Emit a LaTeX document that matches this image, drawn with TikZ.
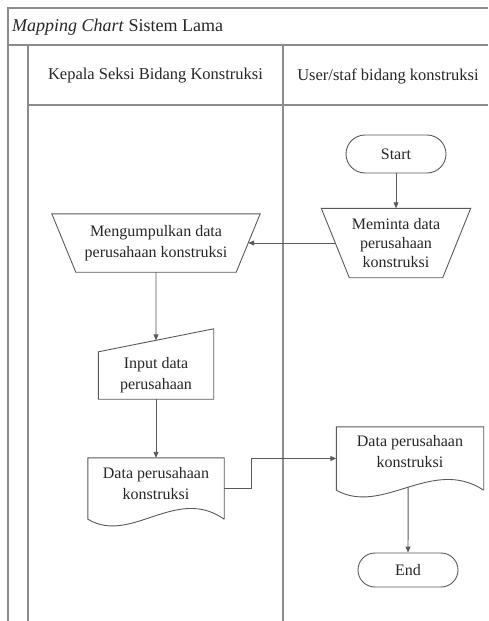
\documentclass[tikz,border=0pt]{standalone}
\usepackage{fontspec}
\setmainfont{Liberation Serif}
\usetikzlibrary{arrows.meta,calc}

\tikzset{
  lane/.style={draw=black!45, line width=1.2pt},
  outline/.style={draw=black!65, line width=0.9pt},
  flow/.style={draw=black!65, line width=0.9pt, -{Triangle[length=6pt,width=5pt]}},
  txt/.style={font=\fontsize{16}{21}\selectfont, text=black!85, align=center, inner sep=1pt},
  terminal/.style={txt, outline, minimum width=100pt},
}

\begin{document}
\begin{tikzpicture}[x=1pt, y=1pt]
\useasboundingbox (0,0) rectangle (488,-621);

% swimlane
\draw[lane] (8,-621) -- (8,-8) -- (488,-8);
\draw[lane] (8,-45) -- (488,-45);
\draw[lane] (28,-45) -- (28,-621);
\draw[lane] (283,-45) -- (283,-621);
\draw[lane] (28,-105) -- (488,-105);

\node[txt, anchor=west, font=\fontsize{18}{21}\selectfont] (title) at (11,-27) {\textit{Mapping Chart} Sistem Lama};
\node[txt, font=\fontsize{16.5}{21}\selectfont] (kasi) at (155.5,-76) {Kepala Seksi Bidang Konstruksi};
\node[txt, font=\fontsize{16.5}{21}\selectfont] (staf) at (388,-76) {User/staf bidang konstruksi};

\node[terminal, rounded corners=19pt, minimum height=38pt] (start) at (396,-154) {Start};

% manual operation
\node[txt, font=\fontsize{16}{19}\selectfont, minimum width=121pt, minimum height=69pt] (minta) at (396,-243) {Meminta data\\perusahaan\\konstruksi};
\draw[outline] ($(minta.north west)+(-14,0)$) -- ($(minta.north east)+(14,0)$) -- ($(minta.south east)+(-14,0)$) -- ($(minta.south west)+(14,0)$) -- cycle;
\node[txt, minimum width=184pt, minimum height=58pt] (kumpul) at (156,-243) {Mengumpulkan data\\perusahaan konstruksi};
\draw[outline] ($(kumpul.north west)+(-12,0)$) -- ($(kumpul.north east)+(12,0)$) -- ($(kumpul.south east)+(-12,0)$) -- ($(kumpul.south west)+(12,0)$) -- cycle;

% manual input
\node[txt, minimum width=115pt, minimum height=47pt] (input) at (156,-375.5) {Input data\\perusahaan};
\draw[outline] (input.south west) -- (input.south east) -- ($(input.north east)+(0,23)$) -- (input.north west) -- cycle;
\coordinate (intop) at ($(input.north west)!0.5!(input.north east)+(0,11.5)$);

% documents
\node[txt, minimum width=136pt, minimum height=61pt, text depth=10pt] (ldoc) at (156,-488.5) {Data perusahaan\\konstruksi};
\draw[outline] (ldoc.south east) -- (ldoc.north east) -- (ldoc.north west) -- (ldoc.south west)
  .. controls ($(ldoc.south)+(-25,-26)$) and ($(ldoc.south)+(20,34)$) .. (ldoc.south east);

\node[txt, minimum width=147pt, minimum height=63pt, text depth=14pt] (rdoc) at (410,-458.5) {Data perusahaan\\konstruksi};
\draw[outline] (rdoc.south east) -- (rdoc.north east) -- (rdoc.north west) -- (rdoc.south west)
  .. controls ($(rdoc.south)+(-27,-26)$) and ($(rdoc.south)+(22,34)$) .. coordinate[pos=0.5] (rdocbot) (rdoc.south east);

\node[terminal, rounded corners=17pt, minimum height=34pt] (end) at (408,-570) {End};

\draw[flow] (start) -- (minta);
\draw[flow] (minta.west) -- (kumpul.east);
\draw[flow] (kumpul) -- (intop);
\draw[flow] (input) -- (ldoc);
\draw[flow] (ldoc.east) -- ++(27,0) |- (rdoc.west);
\draw[flow] (rdocbot) -- (end);
\end{tikzpicture}
\end{document}
